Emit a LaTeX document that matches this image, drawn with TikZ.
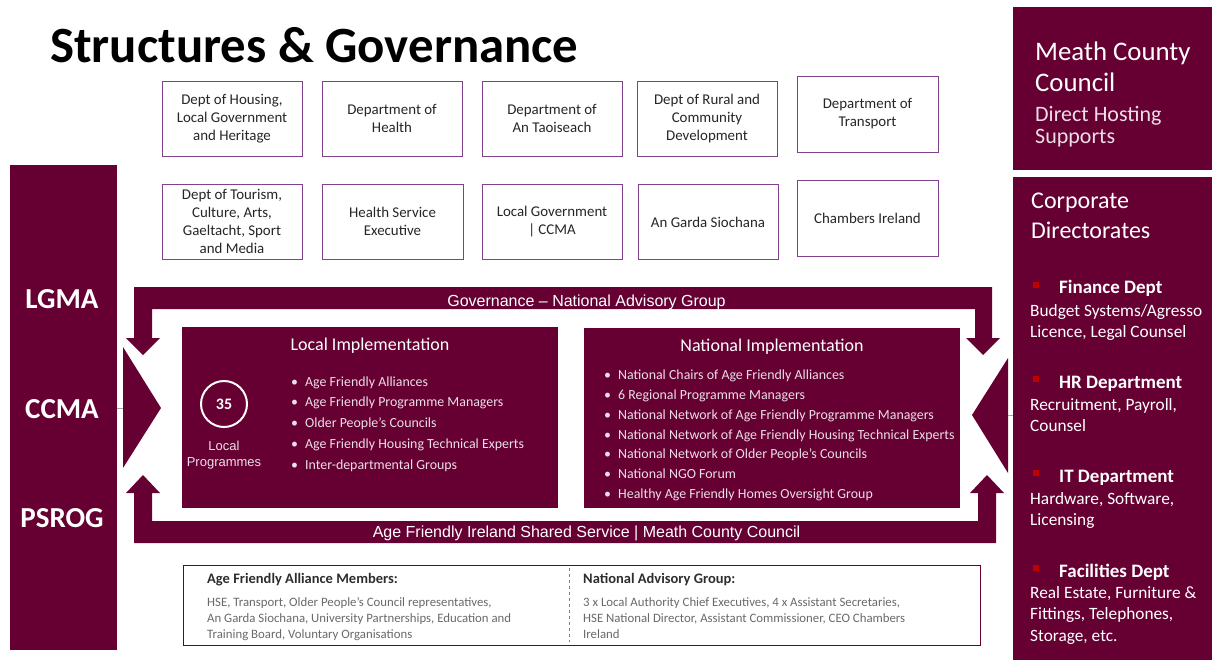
\documentclass[tikz,border=0pt]{standalone}
\usepackage{fontspec}
\setmainfont{Carlito}
\newfontfamily\arialf{Liberation Sans}
\definecolor{maroon}{RGB}{102,0,51}
\definecolor{boxline}{RGB}{128,64,140}
\definecolor{softw}{RGB}{236,222,230}
\definecolor{gtext}{RGB}{105,105,105}
\definecolor{htext}{RGB}{45,45,45}
\definecolor{redsq}{RGB}{192,0,0}
\newcommand\myfs[2]{\fontsize{#1}{#2}\selectfont}
\begin{document}
\begin{tikzpicture}[x=1pt,y=-1pt,
  dept/.style={draw=boxline, line width=0.9pt, fill=white, minimum width=140pt, minimum height=75pt, align=center, inner sep=2pt, font=\myfs{14.9}{18}, text=black!85},
  panel/.style={fill=maroon, inner sep=0pt, anchor=north west},
  txt/.style={inner sep=0pt, anchor=base west},
  ctxt/.style={inner sep=0pt, anchor=base},
  bul/.style={txt, text=softw, font=\myfs{13.9}{16}},
  nbul/.style={txt, text=softw, font=\myfs{13.9}{16}},
  side/.style={txt, text=white, font=\myfs{17.3}{20}},
  sidehead/.style={txt, text=white, font=\myfs{19}{22}\bfseries},
  lab/.style={ctxt, text=white, font=\myfs{29}{32}\bfseries},
  band/.style={ctxt, text=white, font=\arialf\myfs{16}{18}},
  memb/.style={txt, text=gtext, font=\myfs{12.8}{14}},
  membh/.style={txt, text=htext, font=\myfs{14.5}{16}\bfseries},
  sq/.style={fill=redsq}
]
\useasboundingbox (0,0) rectangle (1212,662);

% title
\node[txt, font=\myfs{50.8}{56}\bfseries] (title) at (50,62) {Structures \& Governance};

% department boxes
\node[dept] (d1) at (232,118.5) {Dept of Housing,\\Local Government\\and Heritage};
\node[dept] (d2) at (392,118.5) {Department of\\Health};
\node[dept] (d3) at (552,118.5) {Department of\\An Taoiseach};
\node[dept] (d4) at (707,119) {Dept of Rural and\\Community\\Development};
\node[dept, minimum width=141pt, minimum height=76pt] (d5) at (867.5,114) {Department of\\Transport};
\node[dept] (d6) at (232,221.5) {Dept of Tourism,\\Culture, Arts,\\Gaeltacht, Sport\\and Media};
\node[dept, minimum width=141pt] (d7) at (392.5,221.5) {Health Service\\Executive};
\node[dept] (d8) at (552,221.5) {Local Government\\| CCMA};
\node[dept] (d9) at (708,222) {An Garda Siochana};
\node[dept, minimum width=141pt, minimum height=76pt] (d10) at (867.5,218) {Chambers Ireland};

% left panel
\node[panel, minimum width=107pt, minimum height=485pt] (left) at (10,165) {};
\node[lab] (lgma) at (62,308) {LGMA};
\node[lab] (ccma) at (62,418) {CCMA};
\node[lab] (psrog) at (62,527) {PSROG};

% right panels
\node[panel, minimum width=199pt, minimum height=163pt] (mcc) at (1013,7) {};
\node[txt, text=white, font=\myfs{26.8}{30}] (mcc1) at (1035,60) {Meath County};
\node[txt, text=white, font=\myfs{26.8}{30}] (mcc2) at (1035,91) {Council};
\node[txt, text=softw, font=\myfs{22}{24}] (mcc3) at (1035,121) {Direct Hosting};
\node[txt, text=softw, font=\myfs{22}{24}] (mcc4) at (1035,143) {Supports};

\node[panel, minimum width=199pt, minimum height=483pt] (corp) at (1013,177) {};
\node[txt, text=white, font=\myfs{24}{28}] (cd1) at (1031,208) {Corporate};
\node[txt, text=white, font=\myfs{24}{28}] (cd2) at (1031,238) {Directorates};

\fill[sq] (1033,282) rectangle (1039,288);
\node[sidehead] (fin) at (1059,293) {Finance Dept};
\node[side] (fin1) at (1030,316) {Budget Systems/Agresso};
\node[side] (fin2) at (1030,337) {Licence, Legal Counsel};

\fill[sq] (1033,376) rectangle (1039,382);
\node[sidehead] (hr) at (1059,388) {HR Department};
\node[side] (hr1) at (1030,410) {Recruitment, Payroll,};
\node[side] (hr2) at (1030,431) {Counsel};

\fill[sq] (1033,470) rectangle (1039,476);
\node[sidehead] (it) at (1059,482) {IT Department};
\node[side] (it1) at (1030,504) {Hardware, Software,};
\node[side] (it2) at (1030,525) {Licensing};

\fill[sq] (1033,565) rectangle (1039,571);
\node[sidehead] (fac) at (1059,577) {Facilities Dept};
\node[side] (fac1) at (1030,598) {Real Estate, Furniture \&};
\node[side] (fac2) at (1030,619) {Fittings, Telephones,};
\node[side] (fac3) at (1030,641) {Storage, etc.};

% governance frame
\fill[maroon] (134,338) -- (134,287) -- (992,287) -- (992,338) -- (1000,338) -- (983,355) -- (966,338) -- (975,338) -- (975,309) -- (152,309) -- (152,338) -- (160,338) -- (143,355) -- (126,338) -- cycle;
\fill[maroon] (134,493) -- (126,493) -- (143,475) -- (160,493) -- (152,493) -- (152,521) -- (978,521) -- (978,493) -- (970,493) -- (987,475) -- (1004,493) -- (996,493) -- (996,543) -- (134,543) -- cycle;
\node[band] (gov) at (586.5,306) {Governance – National Advisory Group};
\node[band] (afi) at (586.5,537) {Age Friendly Ireland Shared Service | Meath County Council};

% side triangles
\coordinate (lt) at (123,408);
\coordinate (rt) at (1008,415);
\fill[maroon] (123,347) -- (161,408) -- (123,468) -- cycle;
\fill[maroon] (1008,358) -- (972,415) -- (1008,473) -- cycle;
\draw[gray!70, line width=0.8pt] (left.east |- lt) -- (lt);
\draw[gray!70, line width=0.8pt] (rt) -- (corp.west |- rt);

% local implementation
\node[panel, minimum width=376pt, minimum height=181pt] (local) at (182,327) {};
\node[ctxt, text=white, font=\myfs{18}{20}] (loct) at (370,350) {Local Implementation};
\node[circle, draw=white, line width=2pt, minimum size=46pt, text=white, font=\myfs{16}{18}\bfseries] (c35) at (224,404) {35};
\node[ctxt, text=softw, font=\arialf\myfs{13}{15}] (lp1) at (224,450) {Local};
\node[ctxt, text=softw, font=\arialf\myfs{13}{15}] (lp2) at (224,466) {Programmes};
\foreach \yy/\tt in {386/Age Friendly Alliances, 406/Age Friendly Programme Managers, 427/Older People’s Councils, 448/Age Friendly Housing Technical Experts, 469/Inter-departmental Groups}{
  \node[bul] at (291,\yy) {\makebox[14pt][l]{•}\tt};
}

% national implementation
\node[panel, minimum width=376pt, minimum height=180pt] (national) at (584,328) {};
\node[ctxt, text=white, font=\myfs{18}{20}] (natt) at (772,351) {National Implementation};
\foreach \yy/\tt in {379/National Chairs of Age Friendly Alliances, 399/6 Regional Programme Managers, 419/National Network of Age Friendly Programme Managers, 439/National Network of Age Friendly Housing Technical Experts, 458/National Network of Older People’s Councils, 478/National NGO Forum, 498/Healthy Age Friendly Homes Oversight Group}{
  \node[nbul] at (604,\yy) {\makebox[14pt][l]{•}\tt};
}

% bottom members box
\node[draw=maroon, line width=1.2pt, minimum width=797pt, minimum height=80pt, anchor=north west, inner sep=0pt] (members) at (183,565) {};
\draw[gray, dashed, line width=0.6pt] (569,568) -- (569,642);
\node[membh] (afh) at (207,583) {Age Friendly Alliance Members:};
\node[memb] (af1) at (207,606) {HSE, Transport, Older People’s Council representatives,};
\node[memb] (af2) at (207,622) {An Garda Siochana, University Partnerships, Education and};
\node[memb] (af3) at (207,638) {Training Board, Voluntary Organisations};
\node[membh] (nah) at (583,583) {National Advisory Group:};
\node[memb] (na1) at (583,606) {3 x Local Authority Chief Executives, 4 x Assistant Secretaries,};
\node[memb] (na2) at (583,622) {HSE National Director, Assistant Commissioner, CEO Chambers};
\node[memb] (na3) at (583,638) {Ireland};
\end{tikzpicture}
\end{document}
